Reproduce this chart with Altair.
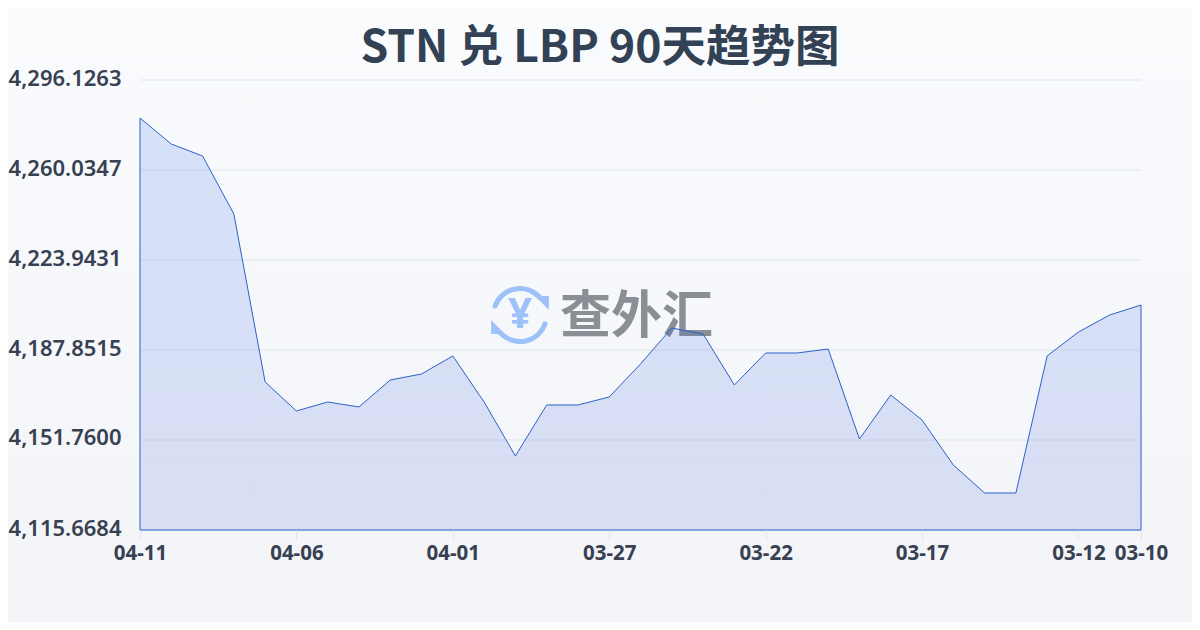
import altair as alt
import pandas as pd

TITLE = "STN 兑 LBP 90天趋势图"
dates = ["04-11","04-10","04-09","04-08","04-07","04-06","04-05","04-04","04-03","04-02","04-01",
         "03-31","03-30","03-29","03-28","03-27","03-26","03-25","03-24","03-23","03-22","03-21",
         "03-20","03-19","03-18","03-17","03-16","03-15","03-14","03-13","03-12","03-11","03-10"]
rates = [4280.89,4270.46,4265.65,4242.39,4175.02,4163.39,4167.00,4165.00,4175.82,4178.23,4185.45,
         4167.00,4145.35,4165.80,4165.80,4169.01,4182.24,4196.68,4194.27,4173.82,4186.65,4186.65,
         4188.25,4152.16,4169.81,4159.78,4141.74,4130.51,4130.51,4185.45,4195.07,4201.89,4205.90]
x_labels = ["04-11","04-06","04-01","03-27","03-22","03-17","03-12","03-10"]
y_ticks = [4115.6684,4151.76,4187.8515,4223.9431,4260.0347,4296.1263]

W, H, L, T = 1001, 450, 132, 72
FW, FH = 1184, 614
LATIN = "Noto Sans, Noto Sans CJK SC, sans-serif"
CJK = "Noto Sans CJK SC, Noto Sans, sans-serif"
TEXT = "#374151"

df = pd.DataFrame({"date": dates, "rate": rates})
grid_df = pd.DataFrame({"tick": y_ticks})

bg = alt.Chart(df).mark_rect(
    color=alt.Gradient(gradient="linear", x1=0, x2=0, y1=0, y2=1,
                       stops=[alt.GradientStop(offset=0, color="#f9fbfd"),
                              alt.GradientStop(offset=1, color="#f2f4f7")])
).transform_filter("datum.date == '04-11'").encode(
    x=alt.value(-L), x2=alt.value(FW - L), y=alt.value(-T), y2=alt.value(FH - T))

ICON = "#9dc1f9"
cx, cy = 520 - 8 - L, 315 - 8 - T
one = alt.Chart(df).transform_filter("datum.date == '04-11'")
arc1 = one.mark_arc(color=ICON, innerRadius=24, outerRadius=29, theta=4.97, theta2=7.23, cornerRadius=2).encode(
    x=alt.value(cx), y=alt.value(cy))
arc2 = one.mark_arc(color=ICON, innerRadius=24, outerRadius=29, theta=1.82, theta2=4.05, cornerRadius=2).encode(
    x=alt.value(cx), y=alt.value(cy))
tri1 = one.mark_point(shape="M-1,-1L1,-1L1,1Z", filled=True, color=ICON, opacity=1, size=190).encode(
    x=alt.value(cx + 22), y=alt.value(cy - 12))
tri2 = one.mark_point(shape="M-1,-1L-1,1L1,1Z", filled=True, color=ICON, opacity=1, size=190).encode(
    x=alt.value(cx - 22), y=alt.value(cy + 12))
yen = one.mark_text(text="¥", font=LATIN, fontSize=42, fontWeight="bold", color=ICON, align="center", baseline="middle").encode(
    x=alt.value(cx), y=alt.value(cy))
brand = one.mark_text(text="查外汇", font=CJK, fontSize=51, fontWeight="bold", color="#8b8e95", align="left", baseline="middle").encode(
    x=alt.value(560 - 8 - L), y=alt.value(cy + 3))

x = alt.X("date:O", sort=None, title=None,
          scale=alt.Scale(type="point", padding=0),
          axis=alt.Axis(values=x_labels, labelAngle=0, labelOverlap=False, labelFont=LATIN,
                        labelFontSize=20.5, labelFontWeight="bold", labelColor=TEXT, labelPadding=3,
                        tickColor="#e2e5ea", tickSize=10, domain=False, grid=False, zindex=1))
y_scale = alt.Scale(domain=[y_ticks[0], y_ticks[-1]], zero=False, nice=False)
y_axis = alt.Axis(values=y_ticks, format=",.4f", labelFont=LATIN, labelFontSize=22,
                  labelFontWeight=600, labelColor=TEXT, labelPadding=19, labelOffset=-2,
                  ticks=False, domain=False, grid=False, zindex=1)

grid = alt.Chart(grid_df).mark_rule(color="#e2e5ea", strokeWidth=1).encode(
    y=alt.Y("tick:Q", title=None, scale=y_scale, axis=y_axis))

area = alt.Chart(df).mark_area(
    stroke="#2b62c9", strokeWidth=1, interpolate="linear",
    color=alt.Gradient(gradient="linear", x1=0, x2=0, y1=0, y2=1,
                       stops=[alt.GradientStop(offset=0, color="rgba(37,99,235,0.16)"),
                              alt.GradientStop(offset=1, color="rgba(50,80,215,0.14)")])
).encode(x=x, y=alt.Y("rate:Q", title=None, scale=y_scale, axis=y_axis), y2=alt.datum(y_ticks[0]))

chart = alt.layer(bg, grid, arc1, arc2, tri1, tri2, yen, brand, area).properties(
    width=W, height=H,
    padding={"left": L, "top": T, "right": FW - W - L, "bottom": FH - H - T},
    autosize=alt.AutoSizeParams(type="none"),
    background="#f6f8fa",
    title=alt.TitleParams(TITLE, font=CJK, fontSize=44.5, fontWeight="bold", color="#334155",
                          anchor="middle", dx=-40.5, offset=-98, baseline="alphabetic", zindex=1),
).configure_view(stroke=None)

chart.save("out.html", embed_options={"renderer": "svg", "actions": False})
